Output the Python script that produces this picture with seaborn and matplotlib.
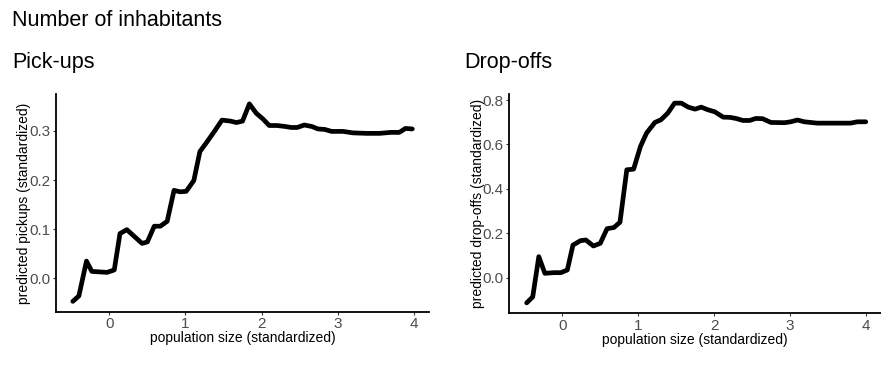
#!/usr/bin/env python3
"""
Partial dependence of pick-ups / drop-offs on population size
"""

import pandas as pd
import seaborn as sns
import matplotlib.pyplot as plt

# === Data ===
pickup_x = [-0.48, -0.40, -0.30, -0.23, -0.03, 0.065, 0.14, 0.23, 0.43, 0.50,
            0.59, 0.67, 0.76, 0.85, 0.93, 1.01, 1.11, 1.19, 1.28, 1.38,
            1.48, 1.59, 1.67, 1.75, 1.84, 1.93, 2.02, 2.10, 2.20, 2.31,
            2.39, 2.47, 2.56, 2.66, 2.74, 2.83, 2.92, 3.07, 3.20, 3.38,
            3.55, 3.70, 3.81, 3.89, 3.98]
pickup_y = [-0.047, -0.036, 0.035, 0.014, 0.012, 0.017, 0.091, 0.099, 0.071, 0.074,
            0.106, 0.106, 0.116, 0.179, 0.176, 0.177, 0.199, 0.258, 0.277, 0.299,
            0.322, 0.320, 0.317, 0.320, 0.355, 0.336, 0.324, 0.311, 0.311, 0.309,
            0.307, 0.307, 0.312, 0.309, 0.304, 0.303, 0.299, 0.299, 0.296, 0.295,
            0.295, 0.297, 0.297, 0.305, 0.304]

dropoff_x = [-0.47, -0.39, -0.31, -0.23, -0.11, -0.02, 0.066, 0.14, 0.24, 0.31,
             0.41, 0.50, 0.59, 0.68, 0.76, 0.85, 0.94, 1.03, 1.11, 1.22,
             1.30, 1.39, 1.48, 1.57, 1.66, 1.75, 1.83, 1.92, 2.01, 2.12,
             2.21, 2.29, 2.38, 2.47, 2.55, 2.64, 2.75, 2.93, 3.01, 3.10,
             3.19, 3.36, 3.54, 3.80, 3.89, 4.00]
dropoff_y = [-0.113, -0.086, 0.095, 0.020, 0.023, 0.023, 0.035, 0.147, 0.167, 0.170,
             0.143, 0.155, 0.221, 0.226, 0.250, 0.486, 0.489, 0.591, 0.651, 0.699,
             0.711, 0.741, 0.786, 0.786, 0.768, 0.759, 0.768, 0.756, 0.747, 0.723,
             0.722, 0.717, 0.708, 0.708, 0.717, 0.716, 0.699, 0.698, 0.702, 0.710,
             0.702, 0.696, 0.696, 0.696, 0.702, 0.702]

x_ticks = [0, 1, 2, 3, 4]
pickup_yticks = [0.0, 0.1, 0.2, 0.3]
dropoff_yticks = [0.0, 0.2, 0.4, 0.6, 0.8]


def style_axis(ax, xlabel, ylabel, yticks, ylim):
    ax.set_xlim(-0.70, 4.20)
    ax.set_ylim(*ylim)
    ax.set_xticks(x_ticks)
    ax.set_yticks(yticks)
    ax.set_yticklabels([f"{t:.1f}" for t in yticks])
    ax.set_xlabel(xlabel, fontsize=10, color="black", labelpad=0)
    ax.set_ylabel(ylabel, fontsize=10, color="black", labelpad=-1.5)
    ax.tick_params(axis="both", bottom=True, left=True, labelsize=11,
                   labelcolor="#4d4d4d", color="#333333", length=2.5,
                   width=0.8, pad=1.5)
    for side in ("top", "right"):
        ax.spines[side].set_visible(False)
    for side in ("left", "bottom"):
        ax.spines[side].set_color("black")
        ax.spines[side].set_linewidth(1.3)


def main():
    sns.set_style("white")
    plt.rcParams["font.family"] = ["Liberation Sans", "DejaVu Sans"]

    pick = pd.DataFrame({"x": pickup_x, "y": pickup_y})
    drop = pd.DataFrame({"x": dropoff_x, "y": dropoff_y})

    fig = plt.figure(figsize=(8.81, 3.67), dpi=100)
    ax1 = fig.add_axes([0.0636, 0.1507, 0.4234, 0.593])
    ax2 = fig.add_axes([0.578, 0.1463, 0.4219, 0.5975])

    sns.lineplot(data=pick, x="x", y="y", ax=ax1, color="black", linewidth=3.4)
    sns.lineplot(data=drop, x="x", y="y", ax=ax2, color="black", linewidth=3.4)

    style_axis(ax1, "population size (standardized)",
               "predicted pickups (standardized)", pickup_yticks, (-0.068, 0.375))
    style_axis(ax2, "population size (standardized)",
               "predicted drop-offs (standardized)", dropoff_yticks, (-0.160, 0.827))

    fig.text(0.0136, 0.944, "Number of inhabitants", fontsize=15.5,
             color="black", va="center", ha="left")
    fig.text(0.0136, 0.829, "Pick-ups", fontsize=15.5,
             color="black", va="center", ha="left")
    fig.text(0.527, 0.829, "Drop-offs", fontsize=15.5,
             color="black", va="center", ha="left")

    fig.savefig("out.png", dpi=100)
    plt.close(fig)


if __name__ == "__main__":
    main()
